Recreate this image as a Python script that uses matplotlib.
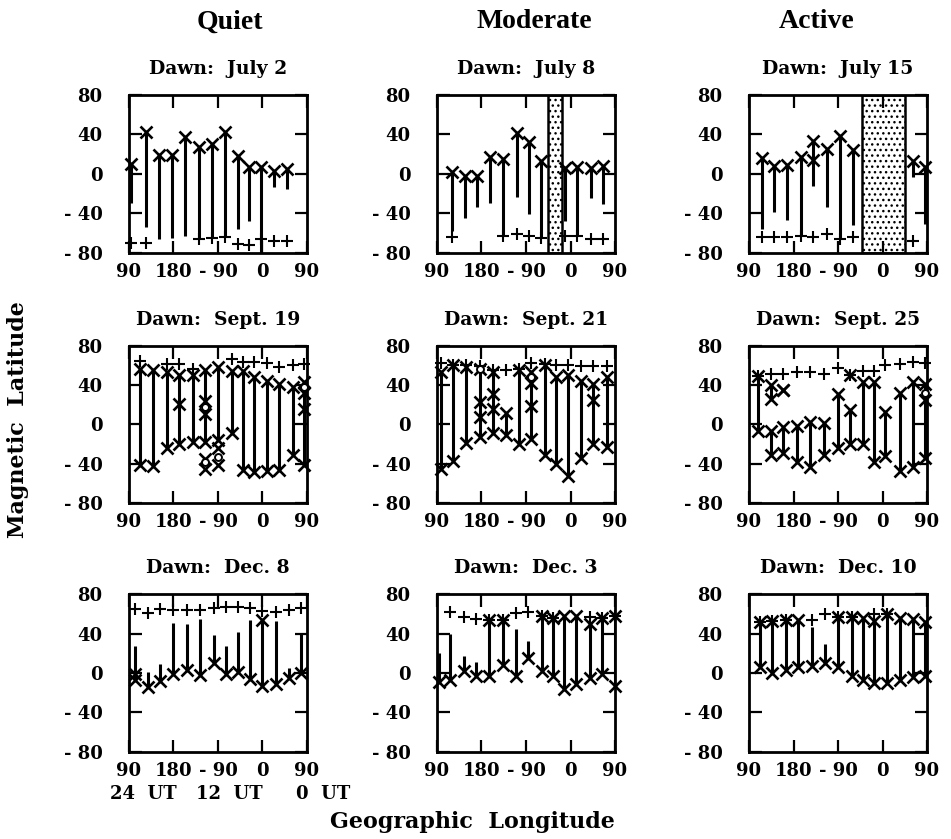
import numpy as np
import matplotlib.pyplot as plt

nan = np.nan

COLUMNS = ["Quiet", "Moderate", "Active"]
XTICKS = [90, 180, 270, 360, 450]
XTICK_LABELS = ["90", "180", "- 90", "0", "90"]
YTICKS = [-80, -40, 0, 40, 80]
YTICK_LABELS = ["- 80", "- 40", "0", "40", "80"]
UT_LABELS = ["24  UT", "12  UT", "0  UT"]
UT_LON = [90, 270, 450]

# longitude runs 90 -> 180/-180 -> -90 -> 0 -> 90, unwrapped to 90..450
# row 1: x at top of each line, + near the dawn boundary
JUL2_LON = [95, 125, 150, 177, 204, 231, 258, 285, 310, 333, 357, 384, 409]
JUL2_HI = [10, 42, 19, 19, 37, 27, 30, 43, 18, 7, 7, 3, 5]
JUL2_LO = [-29, -54, -66, -65, -63, -66, -65, -64, -56, -48, -80, -13, -15]
JUL2_PLUS = [-70, -70, nan, nan, nan, -66, -65, -64, -71, -72, -66, -68, -68]

JUL8_LON = [120, 146, 171, 198, 223, 251, 277, 301, 349, 374, 401, 426]
JUL8_HI = [2, -2, -2, 17, 15, 41, 32, 13, 6, 7.5, 6, 8.5]
JUL8_LO = [-58, -45, -33, -29, -63, -23, -41, -65, -48, -63, -24, -30]
JUL8_PLUS = [-64, nan, nan, nan, -63, -61, -63, -65, -63, -63, -66, -66]
JUL8_GAP = (315, 342)

JUL15_LON = [117, 141, 167, 195, 220, 248, 273, 300, 421, 445]
JUL15_HI = [16, 8.5, 9.5, 17, 33, 25, 38, 24.5, 13, 7]
JUL15_LO = [-56, -39, -47, -63, -12, -33, -65, -52, -3, -51]
JUL15_PLUS = [-64, -64, -64, -63, -64, -61, -66, -64, -68, nan]
JUL15_EXTRA_X = [(220, 14)]
JUL15_GAP = (318, 405)

# row 2: x at both ends of each line
SEP19_LON = [113, 138, 166, 192, 219, 244, 271, 299, 321, 343, 369, 394, 421, 443]
SEP19_HI = [56, 55, 53, 50, 50, 55, 58, 54, 54, 48, 44, 41, 38, 43]
SEP19_LO = [-41, -42, -24, -20, -18, -18, -16, -9, -46, -48, -47, -46, -31, -41]
SEP19_PLUS = [64, nan, 61, 61, 56, nan, nan, 66, 63, 63, 62, 58, 60, 61]
SEP19_EXTRA_X = [(192, 21), (244, 24), (244, 11), (244, -35), (244, -45),
                 (271, -24), (271, -41), (443, 32), (443, 16)]
SEP19_EXTRA_O = [(244, 18), (244, -38), (271, -33), (443, 38)]

SEP21_LON = [98, 122, 149, 176, 203, 230, 255, 281, 308, 330, 354, 381, 406, 433]
SEP21_HI = [53, 60, 58, 56, 53, 12, 55, 53, 60, 48, 50, 44, 41, 48]
SEP21_LO = [-45, -37, -19, -13, -9, -11, -20, -15, -31, -40, -52, -34, -20, -23]
SEP21_PLUS = [62, 60, 60, 59, 55, 55, 56, 62, 61, 60, 60, 59, 59, 59]
SEP21_EXTRA_X = [(176, 23), (176, 8), (203, 31), (203, 16),
                 (281, 42), (281, 19), (406, 25)]
SEP21_EXTRA_O = [(176, 56), (281, 48)]

SEP25_LON = [108, 134, 134, 158, 158, 187, 214, 241, 269, 294, 321, 343, 366, 396, 421, 445]
SEP25_HI = [49, 40, -7, 35, -3, -2, 3, 1.5, 31, 15, 43, 43, 13, 32, 43, 41]
SEP25_LO = [-7, 26, -30.5, 35, -29, -38, -43, -30.5, -24, -20, -20, -38, -32, -47, -43, -34]
SEP25_PLUS = [49, 51, nan, 51, nan, 53, 53, 51, 57, 50, 54, 54, 60, 61, 63, 62]
SEP25_EXTRA_X = [(294, 50), (445, 25)]
SEP25_EXTRA_O = [(445, 32)]

# row 3: x at the bottom of each line, sometimes at the top as well
DEC8_LON = [101.5, 128, 153, 180, 207, 234, 261, 287, 310, 335, 360, 387, 413, 438]
DEC8_HI = [27, 1.5, 9, 51, 50, 55, 38, 27, 42, 54, 54, 53, 5, 41]
DEC8_LO = [-7, -14, -8, -1, 3.5, -2, 10, -1, 1.5, -6, -13, -11, -5, 0]
DEC8_PLUS = [65, 61, 65, 64, 64, 64, 66, 67, 67, 66, 63, 62, 64, 66]
DEC8_TOPX = [0, 0, 0, 0, 0, 0, 0, 0, 0, 0, 1, 0, 0, 0]
DEC8_EXTRA_X = [(101.5, -1)]

DEC3_LON = [95, 117, 144, 169, 196, 223, 249, 275, 302, 325, 347, 372, 399, 423, 450]
DEC3_HI = [20, 40, 17, 11, 54, 54, 44.5, 32, 58, 56, 58, 58, 50, 56, 58]
DEC3_LO = [-9, -7, 2, -3, -3, 8, -3, 15, 2, -3, -16, -11, -5, -1, -13]
DEC3_PLUS = [nan, 62, 57, 55, 54, 54, 61, 62, 58, 56, nan, nan, 57, 56, 58]
DEC3_TOPX = [0, 0, 0, 0, 1, 1, 0, 0, 1, 1, 1, 1, 1, 1, 1]

DEC10_LON = [113, 137, 164, 190, 217, 244, 269, 298, 320, 343, 369, 396, 421, 446]
DEC10_HI = [51.5, 52.5, 54, 54, 47, 29.5, 57, 57, 56, 53, 60, 56, 55, 51.5]
DEC10_LO = [5.6, 0, 3.3, 5.6, 6.6, 10.5, 5.6, -3.3, -6.6, -9.8, -9.8, -6.6, -4.3, -2.6]
DEC10_PLUS = [51.5, 52.5, 54, nan, 54, 60, 57, 57, nan, 60, 60, nan, nan, nan]
DEC10_TOPX = [1, 1, 1, 1, 0, 0, 1, 1, 1, 1, 1, 1, 1, 1]

SERIF = "DejaVu Serif"


def draw_panel(ax, title, lon, hi, lo, plus, top_x, bot_x,
               extra_x=(), extra_o=(), gap=None):
    lon = np.asarray(lon, float)
    hi = np.asarray(hi, float)
    lo = np.asarray(lo, float)
    top_x = np.broadcast_to(np.asarray(top_x, bool), lon.shape)
    bot_x = np.broadcast_to(np.asarray(bot_x, bool), lon.shape)

    ax.vlines(lon, lo, hi, colors="black", linewidth=2.2, zorder=3)
    mk = dict(linestyle="none", color="black", clip_on=False, zorder=4)
    ax.plot(lon[top_x], hi[top_x], marker="x", ms=8, mew=1.9, **mk)
    ax.plot(lon[bot_x], lo[bot_x], marker="x", ms=8, mew=1.9, **mk)
    ax.plot(lon, plus, marker="+", ms=8.5, mew=1.5, **mk)
    if extra_x:
        ex, ey = zip(*extra_x)
        ax.plot(ex, ey, marker="x", ms=8, mew=1.9, **mk)
    if extra_o:
        ox, oy = zip(*extra_o)
        ax.plot(ox, oy, marker="o", ms=5, mew=1.4, mfc="white", **mk)
    if gap is not None:
        ax.axvspan(gap[0], gap[1], facecolor="white", edgecolor="black",
                   hatch="...", linewidth=1.8, zorder=1)

    ax.set_xlim(90, 450)
    ax.set_ylim(-80, 80)
    ax.set_xticks(XTICKS)
    ax.set_xticklabels(XTICK_LABELS, fontfamily=SERIF, fontweight="bold",
                       fontsize=13)
    ax.set_yticks(YTICKS)
    ax.set_yticklabels(YTICK_LABELS, fontfamily=SERIF, fontweight="bold",
                       fontsize=13)
    ax.tick_params(axis="x", direction="in", top=True, length=9, width=1.6,
                   pad=7)
    ax.tick_params(axis="y", direction="in", right=True, length=9, width=1.6,
                   pad=19)
    for sp in ax.spines.values():
        sp.set_linewidth(2)
    ax.set_title(title, fontfamily=SERIF, fontweight="bold", fontsize=13.5,
                 pad=15)


fig = plt.figure(figsize=(9.51, 8.39), dpi=100)
lefts = [0.1356, 0.4595, 0.7876]
bottoms = [0.6985, 0.3999, 0.1037]
w, h = 0.1872, 0.1883
axes = [[fig.add_axes([l, b, w, h]) for l in lefts] for b in bottoms]

draw_panel(axes[0][0], "Dawn:  July 2", JUL2_LON, JUL2_HI, JUL2_LO, JUL2_PLUS,
           True, False)
draw_panel(axes[0][1], "Dawn:  July 8", JUL8_LON, JUL8_HI, JUL8_LO, JUL8_PLUS,
           True, False, gap=JUL8_GAP)
draw_panel(axes[0][2], "Dawn:  July 15", JUL15_LON, JUL15_HI, JUL15_LO,
           JUL15_PLUS, True, False, extra_x=JUL15_EXTRA_X, gap=JUL15_GAP)

draw_panel(axes[1][0], "Dawn:  Sept. 19", SEP19_LON, SEP19_HI, SEP19_LO,
           SEP19_PLUS, True, True, extra_x=SEP19_EXTRA_X, extra_o=SEP19_EXTRA_O)
draw_panel(axes[1][1], "Dawn:  Sept. 21", SEP21_LON, SEP21_HI, SEP21_LO,
           SEP21_PLUS, True, True, extra_x=SEP21_EXTRA_X, extra_o=SEP21_EXTRA_O)
draw_panel(axes[1][2], "Dawn:  Sept. 25", SEP25_LON, SEP25_HI, SEP25_LO,
           SEP25_PLUS, True, True, extra_x=SEP25_EXTRA_X, extra_o=SEP25_EXTRA_O)

draw_panel(axes[2][0], "Dawn:  Dec. 8", DEC8_LON, DEC8_HI, DEC8_LO, DEC8_PLUS,
           DEC8_TOPX, True, extra_x=DEC8_EXTRA_X)
draw_panel(axes[2][1], "Dawn:  Dec. 3", DEC3_LON, DEC3_HI, DEC3_LO, DEC3_PLUS,
           DEC3_TOPX, True)
draw_panel(axes[2][2], "Dawn:  Dec. 10", DEC10_LON, DEC10_HI, DEC10_LO,
           DEC10_PLUS, DEC10_TOPX, True)

# universal time under the first panel of the bottom row
ax = axes[2][0]
for label, x, dx in zip(UT_LABELS, UT_LON, [-14, -16, -8]):
    ax.annotate(label, xy=(x, 0), xycoords=ax.get_xaxis_transform(),
                xytext=(dx, -30), textcoords="offset points",
                ha="left", va="center", fontfamily=SERIF, fontweight="bold",
                fontsize=13)

for name, x in zip(COLUMNS, [230 / 951, 534 / 951, 817 / 951]):
    fig.text(x, 1 - 22 / 839, name, ha="center", va="center",
             fontfamily="Liberation Serif", fontweight="bold", fontsize=20)

fig.text(18 / 951, 0.5, "Magnetic  Latitude", rotation=90, ha="center",
         va="center", fontfamily=SERIF, fontweight="bold", fontsize=16)
fig.text(472 / 951, 1 - 822 / 839, "Geographic  Longitude", ha="center",
         va="center", fontfamily=SERIF, fontweight="bold", fontsize=16)

fig.savefig("out.png", dpi=100)
